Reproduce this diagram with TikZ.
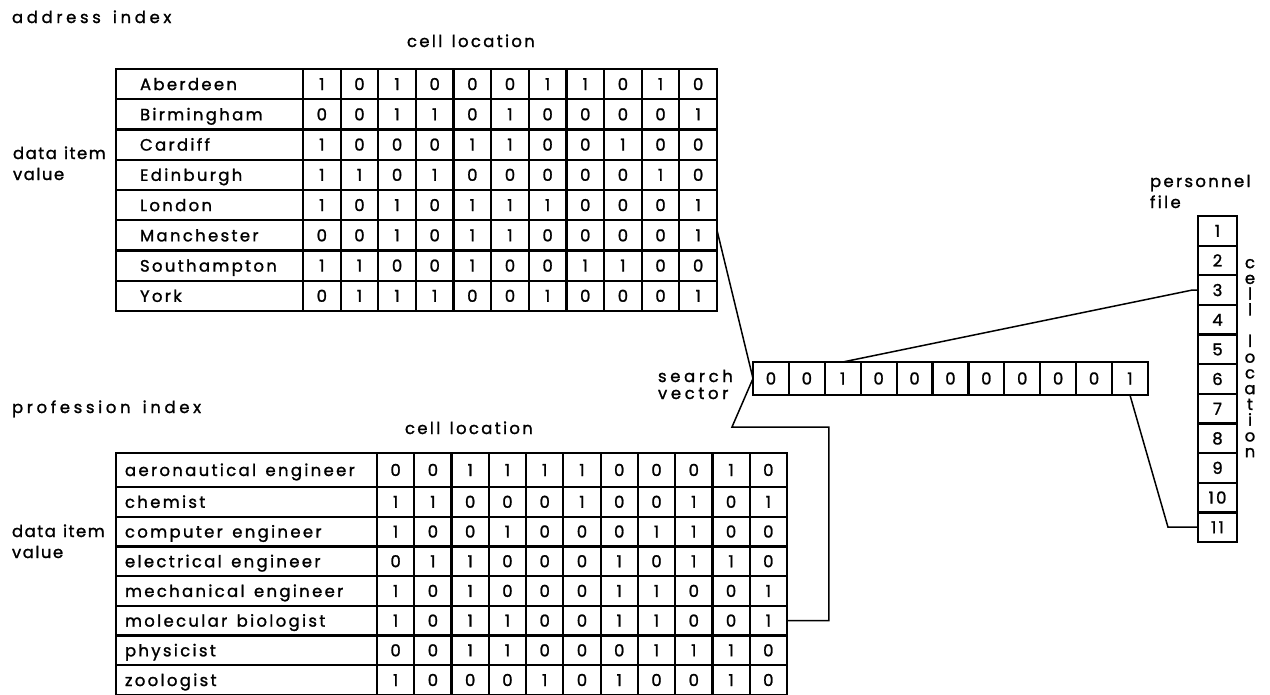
\documentclass[tikz,border=0pt]{standalone}
\usepackage{fontspec}
\newfontfamily\lbl{Poppins}[LetterSpace=14,FakeBold=1.3,WordSpace=1.4]
\newfontfamily\lblw{Poppins}[LetterSpace=22,FakeBold=1.3,WordSpace=1.5]
\newfontfamily\lbln{Poppins}[LetterSpace=9,FakeBold=1.3,WordSpace=1.2]
\usetikzlibrary{calc}
\begin{document}
\begin{tikzpicture}[x=1pt,y=-1pt,
  every node/.style={font=\lbl\fontsize{16.5}{19}\selectfont, inner sep=0pt, outer sep=0pt},
  box/.style={draw, line width=2.2pt, rectangle, text height=12pt, text depth=0pt},
  txt/.style={anchor=base west},
  head/.style={anchor=base west, font=\lblw\fontsize{16.5}{19}\selectfont},
  side/.style={anchor=base west, font=\lbln\fontsize{16.5}{19}\selectfont},
  wire/.style={line width=1.5pt}]
\useasboundingbox (0,0) rectangle (1270,694);
\fill[white] (0,0) rectangle (1270,694);

% ---------- labels ----------
\node[head] (addridx) at (12,23) {address index};
\node[txt] (tcell) at (407,47) {cell location};
\node[side] (tdata) at (13,159) {data item};
\node[side] (tvalue) at (13,180) {value};
\node[head] (profidx) at (12,413) {profession index};
\node[txt] (bcell) at (405,434) {cell location};
\node[side] (bdata) at (12,537) {data item};
\node[side] (bvalue) at (12,558) {value};
\node[head] (search) at (658,382) {search};
\node[head] (vector) at (658,399) {vector};
\node[txt] (pers) at (1150,187) {personnel};
\node[txt] (file) at (1150,208) {file};
\node[anchor=north, align=center, font=\lbl\fontsize{16.5}{15.75}\selectfont] (vcell) at (1250,259)
  {c\\e\\l\\l\\ \\l\\o\\c\\a\\t\\i\\o\\n};

% ---------- address index table ----------
\foreach \name [count=\r] in {Aberdeen,Birmingham,Cardiff,Edinburgh,London,Manchester,Southampton,York}{
  \node[box, minimum width=187pt, minimum height=30.25pt] (tn-\r) at (209.5,{69+(\r-0.5)*30.25}) {};
  \node[txt] (tl-\r) at ($(tn-\r.west)+(24,6)$) {\name};
}
\foreach \bits [count=\r] in {
  {1,0,1,0,0,0,1,1,0,1,0},
  {0,0,1,1,0,1,0,0,0,0,1},
  {1,0,0,0,1,1,0,0,1,0,0},
  {1,1,0,1,0,0,0,0,0,1,0},
  {1,0,1,0,1,1,1,0,0,0,1},
  {0,0,1,0,1,1,0,0,0,0,1},
  {1,1,0,0,1,0,0,1,1,0,0},
  {0,1,1,1,0,0,1,0,0,0,1}}{
  \foreach \b [count=\c] in \bits {
    \node[box, minimum width=37.636pt, minimum height=30.25pt] (t-\r-\c)
      at ({303+(\c-0.5)*37.636},{69+(\r-0.5)*30.25}) {\b};
  }
}

% ---------- profession index table ----------
\node[box, minimum width=261pt, minimum height=34pt] (pn-1) at (246.5,470) {};
\node[txt] (pl-1) at ($(pn-1.west)+(9,6)$) {aeronautical engineer};
\foreach \name [count=\i] in {chemist,computer engineer,electrical engineer,mechanical engineer,molecular biologist,physicist,zoologist}{
  \pgfmathtruncatemacro{\r}{\i+1}
  \node[box, minimum width=261pt, minimum height=29.7pt] (pn-\r) at (246.5,{487+(\i-0.5)*29.7}) {};
  \node[txt] (pl-\r) at ($(pn-\r.west)+(9,6)$) {\name};
}
\foreach \b [count=\c] in {0,0,1,1,1,1,0,0,0,1,0}{
  \node[box, minimum width=37.27pt, minimum height=34pt] (p-1-\c) at ({377+(\c-0.5)*37.27},470) {\b};
}
\foreach \bits [count=\i] in {
  {1,1,0,0,0,1,0,0,1,0,1},
  {1,0,0,1,0,0,0,1,1,0,0},
  {0,1,1,0,0,0,1,0,1,1,0},
  {1,0,1,0,0,0,1,1,0,0,1},
  {1,0,1,1,0,0,1,1,0,0,1},
  {0,0,1,1,0,0,0,1,1,1,0},
  {1,0,0,0,1,0,1,0,0,1,0}}{
  \pgfmathtruncatemacro{\r}{\i+1}
  \foreach \b [count=\c] in \bits {
    \node[box, minimum width=37.27pt, minimum height=29.7pt] (p-\r-\c)
      at ({377+(\c-0.5)*37.27},{487+(\i-0.5)*29.7}) {\b};
  }
}

% ---------- search vector ----------
\foreach \b [count=\c] in {0,0,1,0,0,0,0,0,0,0,1}{
  \node[box, minimum width=35.9pt, minimum height=33pt] (sv-\c) at ({753+(\c-0.5)*35.9},378.5) {\b};
}

% ---------- personnel file ----------
\foreach \c in {1,...,11}{
  \node[box, minimum width=39pt, minimum height=29.64pt] (f-\c) at (1217.5,{216+(\c-0.5)*29.64}) {\c};
}

% ---------- connectors ----------
\coordinate (k1) at (732,427);
\draw[wire] ($(t-6-11.north east)!0.33!(t-6-11.south east)$) -- (sv-1.west);
\draw[wire] (sv-1.west) -- (k1) -| ($(p-6-11.east)+(42,0)$) -- (p-6-11.east);
\draw[wire] (sv-3.north) -- ($(f-3.west)+(-6,0)$) -- (f-3.west);
\draw[wire] (sv-11.south) -- ($(f-11.west)+(-30,0)$) -- (f-11.west);
\end{tikzpicture}
\end{document}
